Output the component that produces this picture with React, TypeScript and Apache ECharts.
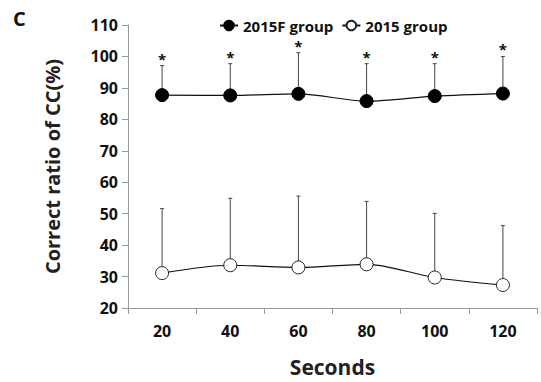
import React, { useEffect, useRef } from "react";
import * as echarts from "echarts";

const categories = ["20", "40", "60", "80", "100", "120"];
const groupF = [87.7, 87.6, 88.1, 85.8, 87.4, 88.2];
const groupFTop = [97.1, 97.7, 101.2, 97.7, 97.7, 100.0];
const group = [31.1, 33.6, 32.9, 33.9, 29.7, 27.3];
const groupTop = [51.6, 54.9, 55.6, 53.9, 50.1, 46.2];

const FONT = "'Open Sans', 'Liberation Sans', sans-serif";

function errData(means: number[], tops: number[]) {
  return means.map((m, i) => [i, m, tops[i]]);
}

function makeRender(star: boolean) {
  return (params: any, api: any) => {
    const x = api.value(0);
    const lo = api.coord([x, api.value(1)]);
    const hi = api.coord([x, api.value(2)]);
    const children: any[] = [
      {
        type: "line",
        shape: { x1: lo[0], y1: lo[1], x2: hi[0], y2: hi[1] },
        style: { stroke: "#444", lineWidth: 1 },
      },
      {
        type: "line",
        shape: { x1: hi[0] - 2, y1: hi[1], x2: hi[0] + 2, y2: hi[1] },
        style: { stroke: "#444", lineWidth: 1 },
      },
    ];
    if (star) {
      children.push({
        type: "text",
        x: hi[0],
        y: hi[1] - 7,
        style: {
          text: "*",
          fontSize: 15,
          lineHeight: 10,
          fontFamily: FONT,
          fontWeight: "bold",
          fill: "#111",
          align: "center",
          verticalAlign: "middle",
        },
      });
    }
    return { type: "group", children };
  };
}

export default function App() {
  const ref = useRef<HTMLDivElement>(null);
  useEffect(() => {
    const chart = echarts.init(ref.current!, null, { renderer: "svg" });
    chart.setOption({
      animation: false,
      backgroundColor: "#fff",
      textStyle: { fontFamily: FONT },
      title: {
        text: "C",
        left: 8,
        top: 3,
        textStyle: { fontSize: 20, fontWeight: "bold", color: "#111", fontFamily: FONT },
      },
      legend: {
        top: 13,
        left: 214,
        itemGap: 8,
        itemWidth: 18,
        itemHeight: 12,
        data: ["2015F group", "2015 group"],
        textStyle: { fontSize: 15, fontWeight: "bold", color: "#111", fontFamily: FONT },
      },
      grid: { left: 128, right: 4, top: 25, bottom: 70 },
      xAxis: {
        type: "category",
        data: categories,
        boundaryGap: true,
        name: "Seconds",
        nameLocation: "middle",
        nameGap: 48,
        nameTextStyle: { fontSize: 21, fontWeight: "bold", color: "#222", fontFamily: FONT },
        axisLine: { lineStyle: { color: "#999" } },
        axisTick: { show: true, alignWithLabel: false, length: 6, lineStyle: { color: "#999" } },
        axisLabel: { fontSize: 16, fontWeight: "bold", color: "#111", margin: 15, fontFamily: FONT },
      },
      yAxis: {
        type: "value",
        min: 20,
        max: 110,
        interval: 10,
        name: "Correct ratio of CC(%)",
        nameLocation: "middle",
        nameGap: 66,
        nameTextStyle: { fontSize: 20, fontWeight: "bold", color: "#222", fontFamily: FONT },
        axisLine: { show: true, lineStyle: { color: "#999" } },
        axisTick: { show: true, length: 6, lineStyle: { color: "#999" } },
        splitLine: { show: false },
        axisLabel: { fontSize: 16, fontWeight: "bold", color: "#111", margin: 10, fontFamily: FONT },
      },
      series: [
        {
          type: "custom",
          renderItem: makeRender(true),
          data: errData(groupF, groupFTop),
          encode: { x: 0, y: [1, 2] },
          z: 1,
          silent: true,
        },
        {
          type: "custom",
          renderItem: makeRender(false),
          data: errData(group, groupTop),
          encode: { x: 0, y: [1, 2] },
          z: 1,
          silent: true,
        },
        {
          name: "2015F group",
          type: "line",
          data: groupF,
          smooth: 0.3,
          symbol: "circle",
          symbolSize: 13,
          lineStyle: { color: "#111", width: 1.2 },
          itemStyle: { color: "#000", borderColor: "#000", borderWidth: 1 },
          z: 3,
        },
        {
          name: "2015 group",
          type: "line",
          data: group,
          smooth: 0.3,
          symbol: "circle",
          symbolSize: 13,
          lineStyle: { color: "#111", width: 1.2 },
          itemStyle: { color: "#fff", borderColor: "#222", borderWidth: 1 },
          z: 3,
        },
      ],
    });
    return () => chart.dispose();
  }, []);
  return (
    <div
      ref={ref}
      style={{ position: "fixed", left: 0, top: 0, width: 541, height: 382 }}
    />
  );
}
